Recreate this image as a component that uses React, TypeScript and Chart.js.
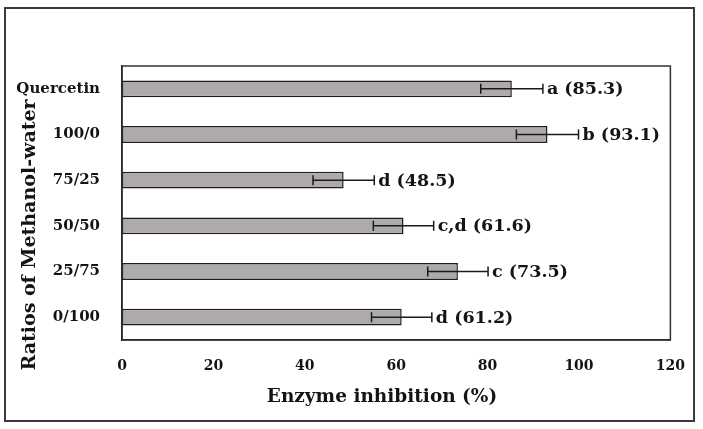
import React, { useEffect, useRef } from "react";
import { Chart, registerables } from "chart.js";

Chart.register(...registerables);

const categories = ["Quercetin", "100/0", "75/25", "50/50", "25/75", "0/100"];
const values = [85.3, 93.1, 48.5, 61.6, 73.5, 61.2];
const errors = [6.8, 6.8, 6.7, 6.6, 6.6, 6.6];
const letters = ["a", "b", "d", "c,d", "c", "d"];
const xTicks = [0, 20, 40, 60, 80, 100, 120];

const SERIF = "'DejaVu Serif', serif";
const TEXT = "#141414";

const decor = {
  id: "decor",
  afterDatasetsDraw(chart: any) {
    const { ctx, scales } = chart;
    const xs = scales.x;
    const ys = scales.y;
    ctx.save();
    ctx.strokeStyle = "#1a1a1a";
    ctx.lineWidth = 1.5;
    values.forEach((v, i) => {
      const y = ys.getPixelForValue(i);
      const x1 = xs.getPixelForValue(v - errors[i]);
      const x2 = xs.getPixelForValue(v + errors[i]);
      ctx.beginPath();
      ctx.moveTo(x1, y);
      ctx.lineTo(x2, y);
      ctx.moveTo(x1, y - 5);
      ctx.lineTo(x1, y + 5);
      ctx.moveTo(x2, y - 5);
      ctx.lineTo(x2, y + 5);
      ctx.stroke();
      ctx.fillStyle = TEXT;
      ctx.font = `bold 17.5px ${SERIF}`;
      ctx.textAlign = "left";
      ctx.textBaseline = "middle";
      ctx.fillText(`${letters[i]} (${v.toFixed(1)})`, x2 + 4, y + 1);
    });
    ctx.restore();
  },
  afterDraw(chart: any) {
    const { ctx, chartArea } = chart;
    ctx.save();
    // plot frame
    ctx.strokeStyle = "#333";
    ctx.lineWidth = 1.5;
    ctx.strokeRect(chartArea.left, chartArea.top, chartArea.right - chartArea.left, chartArea.bottom - chartArea.top);
    // outer frame
    ctx.strokeStyle = "#3a3a3a";
    ctx.lineWidth = 2;
    ctx.strokeRect(5, 8, 689, 413);
    // titles
    ctx.fillStyle = TEXT;
    ctx.textAlign = "center";
    ctx.textBaseline = "middle";
    ctx.font = `bold 18.5px ${SERIF}`;
    ctx.fillText("Enzyme inhibition (%)", 382, 397);
    ctx.font = `bold 19px ${SERIF}`;
    ctx.translate(30, 235);
    ctx.rotate(-Math.PI / 2);
    ctx.fillText("Ratios of Methanol-water", 0, 0);
    ctx.restore();
  },
};

export default function App() {
  const ref = useRef<HTMLCanvasElement>(null);
  useEffect(() => {
    if (!ref.current) return;
    const chart = new Chart(ref.current, {
      type: "bar",
      data: {
        labels: categories,
        datasets: [
          {
            data: values,
            backgroundColor: "#aeaaaa",
            borderColor: "#1e1e1e",
            borderWidth: 1.5,
            borderSkipped: false,
            barPercentage: 0.37,
            categoryPercentage: 1,
          },
        ],
      },
      options: {
        indexAxis: "y",
        responsive: false,
        animation: false,
        layout: { padding: { top: 66, right: 31, left: 0, bottom: 0 } },
        plugins: { legend: { display: false }, tooltip: { enabled: false } },
        scales: {
          x: {
            min: 0,
            max: 120,
            afterFit: (s: any) => {
              s.height = 89;
            },
            afterBuildTicks: (s: any) => {
              s.ticks = xTicks.map((v) => ({ value: v }));
            },
            grid: { display: false, drawTicks: false },
            border: { display: true, color: "#111", width: 1.5 },
            ticks: {
              padding: 18,
              color: TEXT,
              font: { family: SERIF, size: 14, weight: "bold" },
            },
          },
          y: {
            afterFit: (s: any) => {
              s.width = 122;
            },
            grid: { display: false, drawTicks: false },
            border: { display: true, color: "#111", width: 1.5 },
            ticks: {
              padding: 22,
              color: TEXT,
              font: { family: SERIF, size: 15, weight: "bold" },
            },
          },
        },
      },
      plugins: [decor],
    });
    return () => chart.destroy();
  }, []);
  return (
    <div style={{ position: "fixed", left: 0, top: 0, width: 703, height: 429, background: "#fff" }}>
      <canvas ref={ref} width={703} height={429} style={{ display: "block" }} />
    </div>
  );
}
